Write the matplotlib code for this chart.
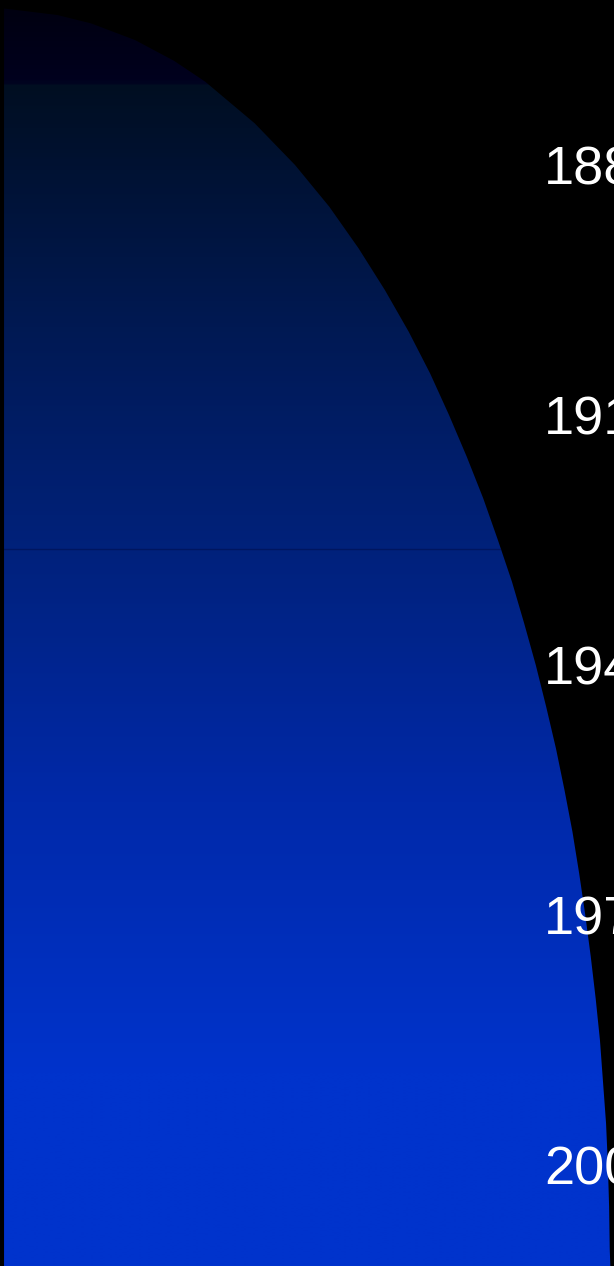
"""Blue gradient area (value by year) on black, with year labels on the right."""
import numpy as np
import matplotlib
matplotlib.use("Agg")
import matplotlib.pyplot as plt
import matplotlib.patches as mpatches
from matplotlib.colors import LinearSegmentedColormap

# data
YEARS = [1861.2, 1862, 1863, 1865, 1867.5, 1870, 1875, 1880, 1885, 1890, 1895,
         1900, 1905, 1910, 1915, 1920, 1925, 1930, 1935, 1940, 1945, 1950,
         1955, 1960, 1965, 1970, 1975, 1980, 1985, 1990, 1995, 2000, 2005,
         2010, 2012.1]
VALUES = [0.0, 8.9, 14.4, 21.6, 28.0, 33.1, 41.2, 47.8, 53.4, 58.2, 62.5,
          66.4, 69.9, 73.0, 75.9, 78.6, 81.0, 83.3, 85.3, 87.2, 88.9, 90.5,
          91.9, 93.2, 94.3, 95.3, 96.2, 97.0, 97.7, 98.2, 98.7, 99.0, 99.2,
          99.3, 99.4]
LABEL_YEARS = [1880, 1910, 1940, 1970, 2000]
DIVIDER_YEAR = 1926.1

Y_TOP, Y_BOTTOM = 1860.2, 2012.1

# colour stops of the vertical gradient (fraction from top, rgb)
grad = LinearSegmentedColormap.from_list("bluegrad", [
    (0.00, (0.0, 0.0, 0.06)),
    (0.062, (0.0, 0.0, 0.12)),
    (0.065, (0.0, 0.055, 0.13)),
    (0.24, (0.0, 0.095, 0.31)),
    (0.43, (0.0, 0.13, 0.48)),
    (0.63, (0.0, 0.16, 0.66)),
    (0.79, (0.0, 0.19, 0.76)),
    (0.85, (0.0, 0.2, 0.8)),
    (1.00, (0.0, 0.2, 0.8)),
])

fig = plt.figure(figsize=(6.14, 12.66), dpi=100, facecolor="black")
ax = fig.add_axes([3 / 614, 0, 611 / 614, 1])
ax.set_facecolor("black")
ax.set_xlim(0, 100)
ax.set_ylim(Y_BOTTOM, Y_TOP)

verts = [(0, YEARS[0])] + list(zip(VALUES, YEARS)) + [(0, YEARS[-1])]
shape = mpatches.Polygon(verts, closed=True, facecolor="none", edgecolor="none")
ax.add_patch(shape)

g = np.linspace(0, 1, 600).reshape(-1, 1)
im = ax.imshow(g, cmap=grad, aspect="auto", interpolation="bilinear",
               extent=(0, 100, Y_BOTTOM, Y_TOP), origin="upper", zorder=1)
im.set_clip_path(shape)

div = ax.axhline(DIVIDER_YEAR, color="#001660", lw=1.0, zorder=2)
div.set_clip_path(shape)

ax.set_xticks([]); ax.set_yticks([])
for s in ("top", "right", "bottom"):
    ax.spines[s].set_visible(False)
ax.spines["left"].set_color("black")
ax.spines["left"].set_linewidth(1.5)

for yr in LABEL_YEARS:
    ax.text(541 / 6.11, yr + 2.3, str(yr), color="white", fontsize=39,
            family=["Liberation Sans Narrow", "Liberation Sans", "DejaVu Sans"],
            ha="left", va="baseline", zorder=3)

fig.savefig("out.png", dpi=100, facecolor="black")
